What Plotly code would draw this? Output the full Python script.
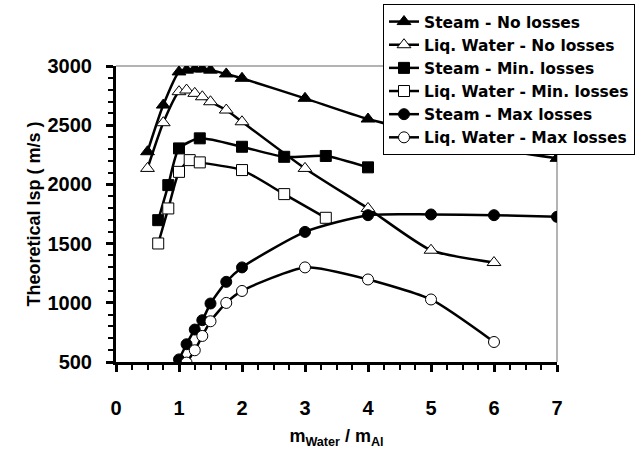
import plotly.graph_objects as go

# ---- data ----
x_tri = [0.5, 0.75, 1.0, 1.12, 1.25, 1.37, 1.5, 1.75, 2.0, 3.0, 4.0, 6.0, 7.0]
steam_no_loss = [2276, 2670, 2950, 2965, 2975, 2975, 2965, 2933, 2896, 2727, 2552, 2304, 2220]

x_tri_liq = [0.5, 0.75, 1.0, 1.12, 1.25, 1.37, 1.5, 1.75, 2.0, 3.0, 4.0, 5.0, 6.0]
liq_no_loss = [2135, 2521, 2783, 2797, 2769, 2740, 2698, 2628, 2529, 2135, 1797, 1444, 1340]

x_sq_steam = [0.67, 0.83, 1.0, 1.33, 2.0, 2.67, 3.33, 4.0]
steam_min_loss = [1698, 1994, 2304, 2389, 2318, 2233, 2240, 2144]

x_sq_liq = [0.67, 0.83, 1.0, 1.17, 1.33, 2.0, 2.67, 3.33]
liq_min_loss = [1501, 1797, 2106, 2205, 2186, 2121, 1918, 1718]

x_circ_steam = [0.9, 1.0, 1.12, 1.25, 1.37, 1.5, 1.75, 2.0, 3.0, 4.0, 5.0, 6.0, 7.0]
steam_max_loss = [410, 522, 650, 774, 853, 994, 1177, 1299, 1599, 1740, 1746, 1740, 1726]

x_circ_liq = [1.0, 1.12, 1.25, 1.37, 1.5, 1.75, 2.0, 3.0, 4.0, 5.0, 6.0]
liq_max_loss = [400, 495, 599, 720, 844, 999, 1100, 1299, 1197, 1028, 669]

x_tickvals = [0, 1, 2, 3, 4, 5, 6, 7]
y_tickvals = [500, 1000, 1500, 2000, 2500, 3000]

series = [
    ("Steam - No losses", x_tri, steam_no_loss, "triangle-up", "black", 12),
    ("Liq. Water - No losses", x_tri_liq, liq_no_loss, "triangle-up", "white", 12),
    ("Steam - Min. losses", x_sq_steam, steam_min_loss, "square", "black", 11),
    ("Liq. Water - Min. losses", x_sq_liq, liq_min_loss, "square", "white", 11),
    ("Steam - Max losses", x_circ_steam, steam_max_loss, "circle", "black", 11),
    ("Liq. Water - Max losses", x_circ_liq, liq_max_loss, "circle", "white", 11),
]

fig = go.Figure()
for name, xs, ys, sym, fill, size in series:
    fig.add_trace(go.Scatter(
        x=xs, y=ys, name=name, mode="lines+markers",
        line=dict(color="black", width=2.5, shape="spline", smoothing=0.6),
        marker=dict(symbol=sym, size=size, color=fill,
                    line=dict(color="black", width=1)),
    ))

FONT = "Liberation Sans, Arial, sans-serif"
LEG_FONT = "DejaVu Sans, Liberation Sans, Arial, sans-serif"

fig.update_layout(
    width=640, height=453,
    margin=dict(l=116, r=83, t=66, b=91, pad=0, autoexpand=False),
    paper_bgcolor="white", plot_bgcolor="white",
    font=dict(family=FONT, size=18, color="black"),
    showlegend=True,
    legend=dict(
        x=383 / 640, y=1 - 4 / 453, xref="container", yref="container",
        xanchor="left", yanchor="top",
        bgcolor="white", bordercolor="black", borderwidth=1,
        font=dict(family=LEG_FONT, size=15.5, color="black", weight="bold"),
        tracegroupgap=0, itemwidth=30,
    ),
)

fig.update_xaxes(
    range=[0, 7], tickvals=x_tickvals, ticktext=[str(v) for v in x_tickvals],
    showgrid=False, zeroline=False,
    showline=True, linecolor="black", linewidth=3,
    ticks="outside", ticklen=7, tickwidth=2.5, tickcolor="black",
    minor=dict(dtick=0.25, ticks="outside", ticklen=5, tickwidth=2, tickcolor="black"),
    tickfont=dict(family=FONT, size=20, color="black", weight="bold"),
    ticklabelstandoff=19,
    title=dict(text="m<sub>Water</sub> / m<sub>Al</sub>",
               font=dict(family=FONT, size=18, color="black", weight="bold"),
               standoff=12),
)
fig.update_yaxes(
    range=[500, 3000], tickvals=y_tickvals, ticktext=[str(v) for v in y_tickvals],
    showgrid=False, zeroline=False,
    showline=True, linecolor="black", linewidth=3,
    ticks="outside", ticklen=7, tickwidth=2.5, tickcolor="black",
    minor=dict(dtick=100, ticks="outside", ticklen=5, tickwidth=2, tickcolor="black"),
    tickfont=dict(family=FONT, size=20, color="black", weight="bold"),
    ticklabelstandoff=10,
    title=dict(text="Theoretical Isp ( m/s )",
               font=dict(family=FONT, size=18, color="black", weight="bold"),
               standoff=3),
)

# grey frame on top and right of the plot area
fig.add_shape(type="line", xref="paper", yref="paper", x0=0, x1=1, y0=1, y1=1,
              line=dict(color="#9a9a9a", width=1.5), layer="below")
fig.add_shape(type="line", xref="paper", yref="paper", x0=1, x1=1, y0=0, y1=1,
              line=dict(color="#9a9a9a", width=1.5), layer="below")

fig.write_html(
    "out.html",
    config={"displayModeBar": False},
    post_script="document.body.style.margin='0';document.body.style.padding='0';",
)
